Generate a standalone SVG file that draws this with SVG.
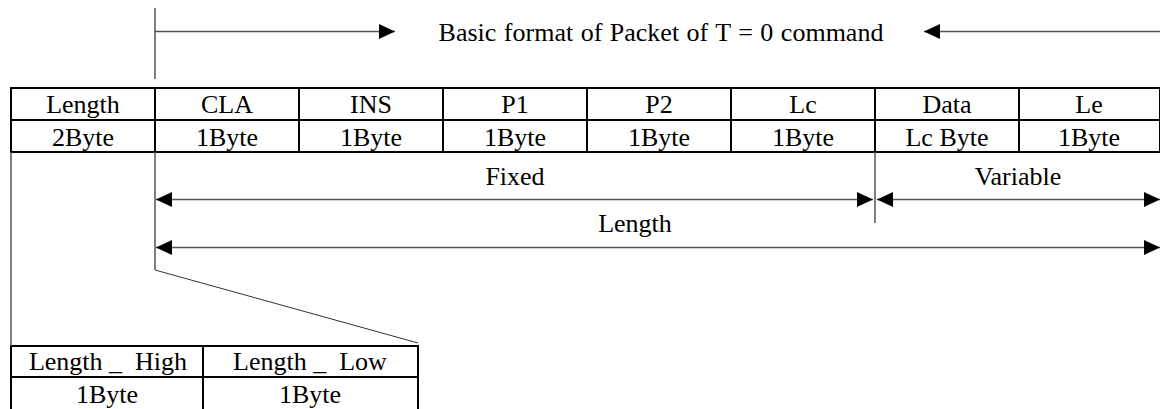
<svg xmlns="http://www.w3.org/2000/svg" width="1160" height="409" viewBox="0 0 1160 409">
<style>
text{font-family:"Liberation Serif","Times New Roman",serif;font-size:26px;fill:#000;text-anchor:middle}
.cell{fill:none;stroke:#000;stroke-width:2}
.ln{stroke:#555;stroke-width:1.5;fill:none}
.thin{stroke:#333;stroke-width:1;fill:none}
</style>
<defs>
<marker id="ah" viewBox="0 0 16 16" refX="16" refY="8" markerWidth="16" markerHeight="16" markerUnits="userSpaceOnUse" orient="auto-start-reverse">
<path d="M0,0.5 L16,8 L0,15.5 z" fill="#000"/>
</marker>
</defs>
<rect width="1160" height="409" fill="#fff"/>
<g id="title">
<text x="661" y="41" word-spacing="1">Basic format of Packet of T = 0 command</text>
</g>
<g id="packet-table">
<rect class="cell" x="11" y="88" width="1149" height="64"/>
<line class="cell" x1="11" y1="120" x2="1160" y2="120"/>
<line class="cell" x1="155" y1="88" x2="155" y2="152"/>
<line class="cell" x1="299" y1="88" x2="299" y2="152"/>
<line class="cell" x1="443" y1="88" x2="443" y2="152"/>
<line class="cell" x1="587" y1="88" x2="587" y2="152"/>
<line class="cell" x1="731" y1="88" x2="731" y2="152"/>
<line class="cell" x1="875" y1="88" x2="875" y2="152"/>
<line class="cell" x1="1019" y1="88" x2="1019" y2="152"/>
<text x="83" y="113">Length</text>
<text x="227" y="113">CLA</text>
<text x="371" y="113">INS</text>
<text x="515" y="113">P1</text>
<text x="659" y="113">P2</text>
<text x="803" y="113">Lc</text>
<text x="947" y="113">Data</text>
<text x="1089" y="113">Le</text>
<text x="83" y="146">2Byte</text>
<text x="227" y="146">1Byte</text>
<text x="371" y="146">1Byte</text>
<text x="515" y="146">1Byte</text>
<text x="659" y="146">1Byte</text>
<text x="803" y="146">1Byte</text>
<text x="947" y="146">Lc Byte</text>
<text x="1089" y="146">1Byte</text>
</g>
<g id="length-table">
<rect class="cell" x="11" y="346" width="407" height="70"/>
<line class="cell" x1="11" y1="377" x2="418" y2="377"/>
<line class="cell" x1="203" y1="346" x2="203" y2="409"/>
<text x="108" y="370" xml:space="preserve">Length _  High</text>
<text x="310" y="370" xml:space="preserve">Length _  Low</text>
<text x="107" y="403">1Byte</text>
<text x="310" y="403">1Byte</text>
</g>
<g id="labels">
<text x="515" y="185">Fixed</text>
<text x="1018" y="185">Variable</text>
<text x="635" y="232">Length</text>
</g>
<g id="connectors">
<line class="ln" x1="155" y1="8" x2="155" y2="79"/>
<line class="ln" x1="155" y1="31.5" x2="395" y2="31.5" marker-end="url(#ah)"/>
<line class="ln" x1="1160" y1="31.5" x2="924" y2="31.5" marker-end="url(#ah)"/>
<line class="ln" x1="155" y1="152" x2="155" y2="270"/>
<line class="ln" x1="875" y1="152" x2="875" y2="223"/>
<line class="ln" x1="11" y1="152" x2="11" y2="346"/>
<line class="thin" x1="155" y1="270" x2="418" y2="343"/>
<line class="ln" x1="156" y1="199.5" x2="873" y2="199.5" marker-start="url(#ah)" marker-end="url(#ah)"/>
<line class="ln" x1="877" y1="199.5" x2="1160" y2="199.5" marker-start="url(#ah)" marker-end="url(#ah)"/>
<line class="ln" x1="156" y1="247.5" x2="1160" y2="247.5" marker-start="url(#ah)" marker-end="url(#ah)"/>
</g>
</svg>
